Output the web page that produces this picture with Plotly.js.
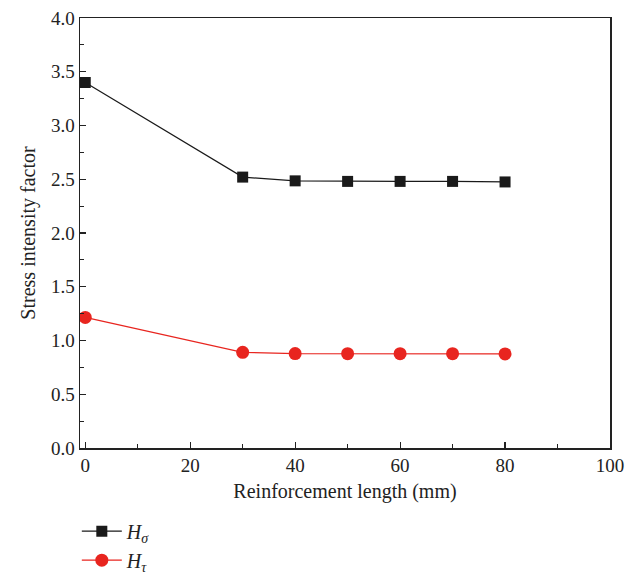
<!DOCTYPE html>
<html>
<head>
<meta charset="utf-8">
<script src="https://cdn.plot.ly/plotly-3.0.1.min.js"></script>
<style>html,body{margin:0;padding:0;background:#fff;}</style>
</head>
<body>
<div id="chart" style="width:636px;height:572px;"></div>
<script>
const lengths = [0, 30, 40, 50, 60, 70, 80];
const hSigma = [3.40, 2.52, 2.485, 2.48, 2.48, 2.48, 2.475];
const hTau = [1.215, 0.89, 0.878, 0.877, 0.877, 0.877, 0.875];
const seriesNames = ['<i>H</i><sub><i>σ</i></sub>', '<i>H</i><sub><i>τ</i></sub>'];

const fam = '"Liberation Serif", "DejaVu Serif", serif';
const tickFont = {family: fam, color: '#222', size: 19};
const titleFont = {family: fam, color: '#222', size: 20};

const traces = [
  {x: lengths, y: hSigma, name: seriesNames[0], mode: 'lines+markers', type: 'scatter',
   line: {color: '#1a1a1a', width: 1.2},
   marker: {symbol: 'square', size: 11, color: '#1a1a1a'}},
  {x: lengths, y: hTau, name: seriesNames[1], mode: 'lines+markers', type: 'scatter',
   line: {color: '#e8251f', width: 1.2},
   marker: {symbol: 'circle', size: 13, color: '#e8251f'}}
];

const axisCommon = {
  showline: true, linecolor: '#222', linewidth: 1.5, mirror: true,
  ticks: 'inside', ticklen: 6, tickwidth: 1.2, tickcolor: '#222',
  showgrid: false, zeroline: false,
  tickfont: tickFont
};

const layout = {
  width: 636, height: 572,
  margin: {l: 80, r: 26, t: 18, b: 124, autoexpand: false},
  paper_bgcolor: '#fff', plot_bgcolor: '#fff',
  font: tickFont,
  showlegend: true,
  legend: {x: -0.006, xanchor: 'left', y: -0.148, yanchor: 'top', orientation: 'v',
           itemwidth: 40,
           font: {family: fam, size: 20, color: '#222'}, bgcolor: 'rgba(0,0,0,0)', tracegroupgap: 0},
  xaxis: Object.assign({}, axisCommon, {
    range: [-1, 100], tickvals: [0, 20, 40, 60, 80, 100],
    minor: {tickvals: [10, 30, 50, 70, 90], ticks: 'inside', ticklen: 4, tickcolor: '#222'},
    title: {text: 'Reinforcement length (mm)', font: titleFont, standoff: 8}
  }),
  yaxis: Object.assign({}, axisCommon, {
    range: [0, 4], tickvals: [0, 0.5, 1, 1.5, 2, 2.5, 3, 3.5, 4], ticktext: ['0.0','0.5','1.0','1.5','2.0','2.5','3.0','3.5','4.0'],
    minor: {tickvals: [0.25, 0.75, 1.25, 1.75, 2.25, 2.75, 3.25, 3.75], ticks: 'inside', ticklen: 4, tickcolor: '#222'},
    title: {text: 'Stress intensity factor', font: titleFont, standoff: 10}
  })
};

Plotly.newPlot('chart', traces, layout, {displayModeBar: false, staticPlot: true});
</script>
</body>
</html>
